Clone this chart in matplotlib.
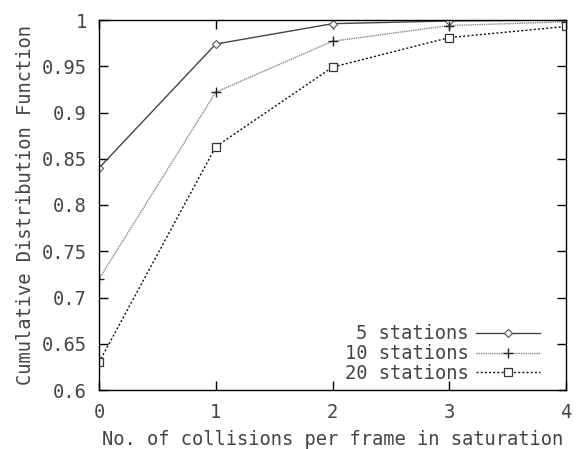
import matplotlib
matplotlib.use("Agg")
import matplotlib.pyplot as plt

x = [0, 1, 2, 3, 4]
s5 = [0.840, 0.974, 0.996, 0.999, 1.000]
s10 = [0.720, 0.922, 0.977, 0.994, 0.998]
s20 = [0.630, 0.863, 0.949, 0.981, 0.993]
labels = ["5 stations", "10 stations", "20 stations"]
yticks = [0.6, 0.65, 0.7, 0.75, 0.8, 0.85, 0.9, 0.95, 1.0]
yticklabels = ["0.6", "0.65", "0.7", "0.75", "0.8", "0.85", "0.9", "0.95", "1"]
xticks = [0, 1, 2, 3, 4]

plt.rcParams['font.family'] = ['DejaVu Sans Mono']
fs = 13.5
tc = '#444444'

fig = plt.figure(figsize=(5.84, 4.49), dpi=100)
ax = fig.add_axes([99/584, 59/449, 467/584, 370/449])

ax.plot(x, s5, color='#444444', lw=1.0, ls='-', marker='D', ms=4, mfc='white', mec='#555555', mew=0.8, label=labels[0])
ax.plot(x, s10, color='#888888', lw=1.0, ls=(0, (1, 0.6)), marker='+', ms=7, mec='#222222', mew=1.0, label=labels[1])
ax.plot(x, s20, color='#111111', lw=1.0, ls=(0, (1.5, 1.5)), marker='s', ms=6, mfc='white', mec='#333333', mew=0.9, label=labels[2])

ax.set_xlim(0, 4)
ax.set_ylim(0.6, 1.0)
ax.set_xticks(xticks)
ax.set_xticklabels([str(v) for v in xticks])
ax.set_yticks(yticks)
ax.set_yticklabels(yticklabels)
ax.tick_params(direction='in', length=6.5, width=1, top=True, right=True, labelsize=fs, labelcolor=tc, pad=9)
for sp in ax.spines.values():
    sp.set_linewidth(1.0)
    sp.set_color('black')

ax.set_xlabel("No. of collisions per frame in saturation", fontsize=fs, color=tc, labelpad=6)
ax.set_ylabel("Cumulative Distribution Function", fontsize=fs, color=tc, labelpad=5)

leg = ax.legend(loc='lower right', bbox_to_anchor=(540/584, 66/449), bbox_transform=fig.transFigure,
                markerfirst=False, frameon=False, fontsize=fs, handlelength=3.4,
                labelspacing=0.05, handletextpad=0.4, borderpad=0, borderaxespad=0)
for t in leg.get_texts():
    t.set_color(tc)

fig.savefig("out.png", dpi=100)
